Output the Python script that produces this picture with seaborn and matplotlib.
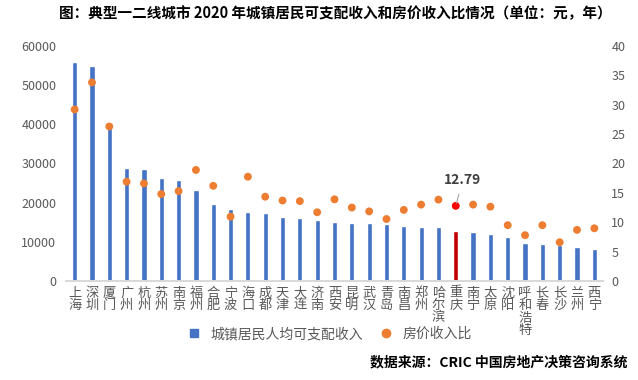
import matplotlib
matplotlib.use("Agg")
import matplotlib.pyplot as plt
import numpy as np
import pandas as pd
import seaborn as sns
from matplotlib.lines import Line2D

# 城市
cities = ["上海", "深圳", "厦门", "广州", "杭州", "苏州", "南京", "福州", "合肥", "宁波",
          "海口", "成都", "天津", "大连", "济南", "西安", "昆明", "武汉", "青岛", "南昌",
          "郑州", "哈尔滨", "重庆", "南宁", "太原", "沈阳", "呼和浩特", "长春", "长沙", "兰州", "西宁"]
# 城镇居民人均可支配收入（元）
income = [55900, 54900, 40200, 28850, 28600, 26300, 25800, 23230, 19660, 18380,
          17620, 17360, 16340, 16080, 15570, 15060, 14890, 14850, 14470, 14040,
          13790, 13790, 12770, 12510, 12000, 11230, 9700, 9450, 9200, 8680, 8170]
# 房价收入比（年）
ratio = [29.2, 33.8, 26.3, 16.9, 16.6, 14.8, 15.3, 18.9, 16.2, 10.95,
         17.75, 14.35, 13.7, 13.6, 11.7, 13.9, 12.5, 11.85, 10.55, 12.1,
         13.0, 13.85, 12.79, 13.0, 12.65, 9.5, 7.8, 9.5, 6.6, 8.7, 8.97]
highlight = "重庆"

BLUE = "#4472C4"
ORANGE = "#ED7D31"
GREY = "#595959"

sns.set_theme(style="white")
plt.rcParams['font.family'] = ['Noto Sans CJK SC', 'DejaVu Sans']

df = pd.DataFrame({"city": cities, "income": income, "ratio": ratio})
df["pos"] = np.arange(len(df))
bar_colors = ["#C00000" if c == highlight else BLUE for c in cities]
dot_colors = ["#FF0000" if c == highlight else ORANGE for c in cities]

fig = plt.figure(figsize=(6.38, 3.8), dpi=100)
ax = fig.add_axes([66 / 638, 1 - 281 / 380, 537 / 638, 235 / 380])

sns.barplot(data=df, x="city", y="income", hue="city", palette=bar_colors,
            order=cities, width=0.3, legend=False, ax=ax, saturation=1)
ax.set_xlim(-0.5, len(cities) - 0.5)
ax.set_ylim(0, 60000)
ax.set_yticks(range(0, 60001, 10000))
ax.set_xticks(range(len(cities)))
ax.set_xticklabels(["\n".join(c) for c in cities], fontsize=9.5, color=GREY,
                   linespacing=0.95, va="top")
ax.tick_params(axis="x", length=0, pad=4)
ax.tick_params(axis="y", length=0, pad=7, labelsize=9, labelcolor=GREY)
ax.set_xlabel("")
ax.set_ylabel("")

ax2 = ax.twinx()
sns.scatterplot(data=df, x="pos", y="ratio", hue="city", palette=dot_colors,
                s=32, linewidth=0, legend=False, ax=ax2, zorder=3)
ax2.set_ylim(0, 40)
ax2.set_yticks(range(0, 41, 5))
ax2.tick_params(axis="y", length=0, pad=6, labelsize=9, labelcolor=GREY)
ax2.set_ylabel("")
ax2.set_xlabel("")

for a in (ax, ax2):
    for s in ("top", "left", "right"):
        a.spines[s].set_visible(False)
    a.spines["bottom"].set_color("#D9D9D9")
    a.grid(False)

# 重庆标注
i = cities.index(highlight)
ax2.annotate(f"{ratio[i]:.2f}", xy=(i, ratio[i]), xytext=(i + 0.4, 17.2),
             ha="center", va="center", fontsize=10, fontweight="bold", color="#404040",
             arrowprops=dict(arrowstyle="-", color="#A6A6A6", lw=0.8, shrinkA=3, shrinkB=2))

handles = [Line2D([], [], marker="s", ls="", color=BLUE, markersize=6),
           Line2D([], [], marker="o", ls="", color=ORANGE, markersize=6)]
fig.legend(handles, ["城镇居民人均可支配收入", "房价收入比"], loc="center",
           bbox_to_anchor=(326 / 638, 1 - 334 / 380), ncol=2, frameon=False,
           fontsize=10, handletextpad=0.2, columnspacing=0.6, labelcolor=GREY)

fig.text(335 / 638, 1 - 13 / 380,
         "图：典型一二线城市 2020 年城镇居民可支配收入和房价收入比情况（单位：元，年）",
         ha="center", va="center", fontsize=10.5, fontweight="bold", color="black")
fig.text(627 / 638, 1 - 362 / 380, "数据来源：CRIC 中国房地产决策咨询系统",
         ha="right", va="center", fontsize=10, fontweight="bold", color="black")

fig.savefig("out.png", dpi=100)
